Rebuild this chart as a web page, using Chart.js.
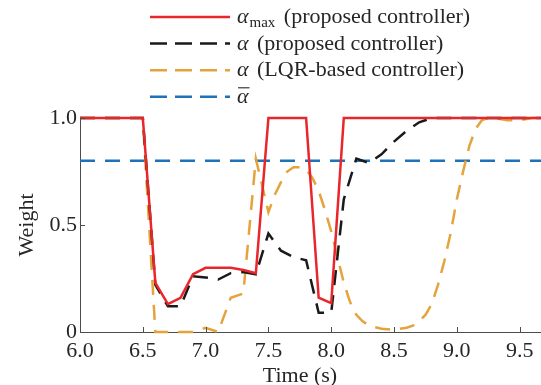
<!DOCTYPE html>
<html>
<head>
<meta charset="utf-8">
<script src="https://cdn.jsdelivr.net/npm/chart.js@4"></script>
<style>
  html, body { margin: 0; padding: 0; background: #fff; }
  canvas { display: block; }
</style>
</head>
<body>
<canvas id="weightChart" width="541" height="385"></canvas>
<script>
// values (time in s, weight 0..1)
const tMax = [6.0, 6.5, 6.6, 6.7, 6.8, 6.9, 7.0, 7.1, 7.2, 7.3, 7.4, 7.5, 7.8, 7.9, 8.0, 8.1, 9.7];
const alphaMax = [1, 1, 0.23, 0.13, 0.16, 0.27, 0.30, 0.30, 0.30, 0.29, 0.275, 1, 1, 0.16, 0.135, 1, 1];

const tProp = [6.0, 6.5, 6.6, 6.7, 6.8, 6.9, 7.0, 7.1, 7.2, 7.3, 7.4, 7.5, 7.6, 7.7, 7.8, 7.9, 8.0, 8.1, 8.2, 8.3, 8.4, 8.5, 8.6, 8.7, 8.8, 9.7];
const alphaProp = [1, 1, 0.22, 0.12, 0.12, 0.26, 0.255, 0.245, 0.275, 0.28, 0.27, 0.46, 0.38, 0.35, 0.335, 0.09, 0.09, 0.62, 0.81, 0.79, 0.83, 0.89, 0.94, 0.98, 1, 1];

const tLqr = [6.0, 6.5, 6.6, 6.7, 6.8, 6.9, 7.0, 7.1, 7.2, 7.3, 7.4, 7.5, 7.55, 7.6, 7.65, 7.7, 7.75, 7.8, 7.85, 7.9,
  7.95, 8.0, 8.05, 8.1, 8.15, 8.2, 8.25, 8.3, 8.4, 8.5, 8.6, 8.65, 8.7, 8.75, 8.8, 8.85, 8.9, 8.95, 9.0, 9.05,
  9.1, 9.15, 9.2, 9.25, 9.3, 9.4, 9.5, 9.6, 9.7];
const alphaLqr = [1, 1, 0.0, 0.0, 0.0, 0.0, 0.02, 0.0, 0.16, 0.18, 0.81, 0.56, 0.64, 0.70, 0.75, 0.77, 0.77, 0.76, 0.72, 0.66,
  0.57, 0.47, 0.35, 0.23, 0.14, 0.08, 0.05, 0.03, 0.015, 0.01, 0.02, 0.03, 0.05, 0.08, 0.13, 0.22, 0.33, 0.46, 0.62, 0.75,
  0.87, 0.95, 0.99, 1.0, 1.0, 0.99, 0.99, 1.0, 1.0];

const tBar = [6.0, 9.7];
const alphaBar = [0.8, 0.8];

const xTicks = [6.0, 6.5, 7.0, 7.5, 8.0, 8.5, 9.0, 9.5];
const yTicks = [0, 0.5, 1.0];

const legendText = ['(proposed controller)', '(proposed controller)', '(LQR-based controller)', ''];
const legendSub = ['max', '', '', ''];
const legendBar = [false, false, false, true];

const serif = '"Liberation Serif", "Times New Roman", serif';
const textColor = '#262626';
const axisColor = '#4d4d4d';

function pts(xs, ys) {
  return xs.map((x, i) => ({ x: x, y: ys[i] }));
}

// inward ticks, x title and the legend
const decorPlugin = {
  id: 'decor',
  afterDraw(chart) {
    const ctx = chart.ctx;
    const xs = chart.scales.x, ys = chart.scales.y;
    const area = chart.chartArea;
    ctx.save();

    ctx.strokeStyle = axisColor;
    ctx.lineWidth = 1;
    ctx.beginPath();
    xTicks.forEach(v => {
      const px = Math.round(xs.getPixelForValue(v)) + 0.5;
      ctx.moveTo(px, area.bottom);
      ctx.lineTo(px, area.bottom - 5);
    });
    yTicks.forEach(v => {
      const py = Math.round(ys.getPixelForValue(v)) + 0.5;
      ctx.moveTo(area.left, py);
      ctx.lineTo(area.left + 5, py);
    });
    ctx.stroke();

    ctx.fillStyle = textColor;
    ctx.font = '22px ' + serif;
    ctx.textAlign = 'center';
    ctx.textBaseline = 'middle';
    ctx.fillText('Time (s)', 300, 376);

    // legend
    ctx.textAlign = 'left';
    ctx.textBaseline = 'alphabetic';
    chart.data.datasets.forEach((ds, i) => {
      const base = 23 + i * 26.6;
      const ly = base - 6;
      ctx.strokeStyle = ds.borderColor;
      ctx.lineWidth = 2.5;
      ctx.setLineDash(ds.borderDash ? [17, 8] : []);
      ctx.beginPath();
      ctx.moveTo(150, ly);
      ctx.lineTo(230, ly);
      ctx.stroke();
      ctx.setLineDash([]);

      let x = 237;
      ctx.font = 'italic 22px ' + serif;
      ctx.fillText('α', x, base);
      const aw = ctx.measureText('α').width;
      if (legendBar[i]) {
        ctx.strokeStyle = textColor;
        ctx.lineWidth = 1.1;
        ctx.beginPath();
        ctx.moveTo(x + 1, base - 15);
        ctx.lineTo(x + aw + 1, base - 15);
        ctx.stroke();
      }
      x += aw;
      if (legendSub[i]) {
        ctx.font = '15px ' + serif;
        ctx.fillText(legendSub[i], x + 1, base + 4);
        x += ctx.measureText(legendSub[i]).width + 1;
      }
      ctx.font = '22px ' + serif;
      if (legendText[i]) ctx.fillText(' ' + legendText[i], x + 3, base);
    });

    ctx.restore();
  }
};

const ctx = document.getElementById('weightChart').getContext('2d');
new Chart(ctx, {
  type: 'scatter',
  data: {
    datasets: [
      {
        label: 'alpha_max (proposed controller)',
        data: pts(tMax, alphaMax),
        borderColor: '#e8262b',
        borderWidth: 2.5
      },
      {
        label: 'alpha (proposed controller)',
        data: pts(tProp, alphaProp),
        borderColor: '#1a1a1a',
        borderWidth: 2.5,
        borderDash: [15, 10]
      },
      {
        label: 'alpha (LQR-based controller)',
        data: pts(tLqr, alphaLqr),
        borderColor: '#e5a33b',
        borderWidth: 2.5,
        borderDash: [15, 10]
      },
      {
        label: 'alpha bar',
        data: pts(tBar, alphaBar),
        borderColor: '#1f72b8',
        borderWidth: 2.5,
        borderDash: [15, 10]
      }
    ]
  },
  options: {
    responsive: false,
    animation: false,
    showLine: true,
    clip: false,
    elements: {
      point: { radius: 0, hoverRadius: 0 },
      line: { tension: 0, fill: false }
    },
    layout: { padding: { top: 118, left: 0, right: 0, bottom: 0 } },
    plugins: {
      legend: { display: false },
      tooltip: { enabled: false }
    },
    scales: {
      x: {
        type: 'linear',
        min: 6,
        max: 9.67,
        afterBuildTicks: s => { s.ticks = xTicks.map(v => ({ value: v })); },
        afterFit: s => { s.height = 53; },
        grid: { display: false, drawTicks: false },
        border: { display: true, color: axisColor, width: 1 },
        ticks: {
          padding: 6,
          maxRotation: 0,
          autoSkip: false,
          color: textColor,
          font: { family: serif, size: 22 },
          callback: v => v.toFixed(1)
        }
      },
      y: {
        min: 0,
        max: 1,
        afterBuildTicks: s => { s.ticks = yTicks.map(v => ({ value: v })); },
        afterFit: s => { s.width = 80; },
        grid: { display: false, drawTicks: false },
        border: { display: true, color: axisColor, width: 1 },
        ticks: {
          padding: 3,
          color: textColor,
          font: { family: serif, size: 22 },
          callback: v => (v === 0 ? '0' : v.toFixed(1))
        },
        title: {
          display: true,
          text: 'Weight',
          color: textColor,
          font: { family: serif, size: 22 },
          padding: { top: 14, bottom: 0 }
        }
      }
    }
  },
  plugins: [decorPlugin]
});
</script>
</body>
</html>
